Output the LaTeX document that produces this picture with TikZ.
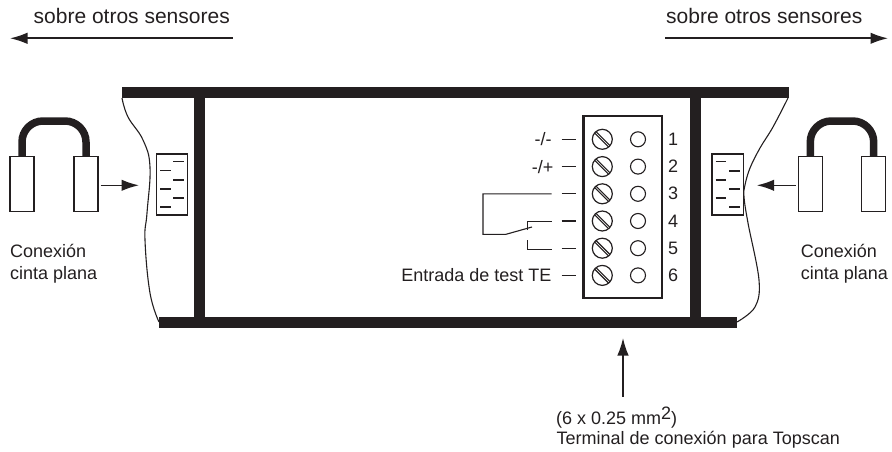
\documentclass[tikz,border=0pt]{standalone}
\usepackage{fontspec}
\setmainfont{Liberation Sans}
\usetikzlibrary{arrows.meta,calc}
\definecolor{ink}{HTML}{231F20}
\tikzset{
  bar/.style={fill=ink,draw=none},
  flow/.style={draw=ink,line width=1.6pt,-{Latex[length=17.5pt,width=11.5pt]},shorten >=0pt},
  wave/.style={draw=ink,line width=1.1pt},
  wire/.style={draw=ink,line width=1.1pt},
  lbl/.style={font=\fontsize{18}{20}\selectfont,text=ink,inner sep=0pt},
  toplbl/.style={font=\fontsize{21}{26}\selectfont,text=ink,inner sep=0pt,anchor=base west},
  plug/.style={draw=ink,line width=1.1pt,fill=white,minimum width=24pt,minimum height=54.5pt,inner sep=0pt},
  cable/.style={draw=ink,line width=7.5pt,rounded corners=21pt},
  block/.style={draw=ink,line width=1.1pt,minimum width=31.5pt,minimum height=61pt,inner sep=0pt},
  tick/.style={draw=ink,line width=1.25pt},
  screw/.style={circle,draw=ink,line width=1.2pt,minimum size=20pt,inner sep=0pt},
  hole/.style={circle,draw=ink,line width=1.1pt,minimum size=15pt,inner sep=0pt},
  termbox/.style={draw=ink,line width=2.4pt,minimum width=78.4pt,minimum height=182pt,inner sep=0pt},
}
\begin{document}
\begin{tikzpicture}[x=1pt,y=-1pt]
\useasboundingbox (0,0) rectangle (892,452);
% top arrows
\node[toplbl] (tl) at (33.5,23.3) {sobre otros sensores};
\node[toplbl] (tr) at (666,23.3) {sobre otros sensores};
\coordinate (a1s) at (232.5,38.3); \coordinate (a1e) at (10,38.3);
\coordinate (a2s) at (665,38.3);   \coordinate (a2e) at (888,38.3);
\draw[flow] (a1s) -- (a1e);
\draw[flow] (a2s) -- (a2e);
% frame
\fill[bar] (122,87) rectangle (789,98);
\fill[bar] (159,317) rectangle (737,328);
\fill[bar] (194,98) rectangle (205,317);
\fill[bar] (690,98) rectangle (701,317);
% torn edges
\draw[wave] plot[smooth,tension=0.7] coordinates {(122,98) (128,117) (143,140) (150,167) (147,213) (145,240) (150,293) (159,322)};
\draw[wave] plot[smooth,tension=0.6] coordinates {(788,98) (773,127) (760,148) (750,168) (745,185) (744,197) (748,223) (759,280) (755,307) (737,322)};
% terminal
\node[termbox] (term) at (622.5,207) {};
\foreach \i/\y in {1/139.3,2/166.6,3/193.8,4/221,5/248.2,6/275.4}{
  \node[screw] (s\i) at (602.3,\y) {};
  \draw[ink,line width=1.1pt] ($(s\i)+(-7.6,-6.2)$) -- ($(s\i)+(6.2,7.6)$);
  \draw[ink,line width=1.1pt] ($(s\i)+(-6.2,-7.6)$) -- ($(s\i)+(7.6,6.2)$);
  \node[hole] (h\i) at (638,\y) {};
  \node[lbl] (n\i) at (673,\y) {\i};
  \coordinate (d\i) at (561.7,\y);
  \draw[tick] (d\i) -- ++(14.5,0);
}
\node[lbl,anchor=east] (l1) at ($(d1)+(-10,0)$) {-/-};
\node[lbl,anchor=east] (l2) at ($(d2)+(-8,0)$) {-/+};
\node[lbl,anchor=east] (l6) at ($(d6)+(-10,0)$) {Entrada de test TE};
% relay
\coordinate (r3) at (551.5,193.8);
\coordinate (r3a) at (483,193.8);
\coordinate (r3b) at (483,234.3);
\coordinate (r3c) at (506,234.3);
\coordinate (r3d) at (532,227);
\coordinate (r4a) at (527.7,230);
\coordinate (r4b) at (527.7,221.4);
\coordinate (r4c) at (551.5,221.4);
\coordinate (r5a) at (527.7,240);
\coordinate (r5b) at (527.7,249.4);
\coordinate (r5c) at (551.5,249.4);
\draw[wire] (r3) -- (r3a) -- (r3b) -- (r3c) -- (r3d);
\draw[wire] (r4a) -- (r4b) -- (r4c);
\draw[wire] (r5a) -- (r5b) -- (r5c);
% left connector
\node[block] (bL) at (171.8,184.5) {};
\foreach \y in {161.7,180,198}{\draw[tick] (173.3,\y) -- (184,\y);}
\foreach \y in {170.7,189,207}{\draw[tick] (160.3,\y) -- (170.7,\y);}
\node[plug] (pL1) at (22,184) {};
\node[plug] (pL2) at (86,184) {};
\draw[cable] (pL1.north) -- (22,121) -- (86,121) -- (pL2.north);
\coordinate (aLs) at (100.5,185.3); \coordinate (aLe) at (139,185.3);
\draw[flow] (aLs) -- (aLe);
\node[lbl,anchor=base west] (cL1) at (10,257) {Conexión};
\node[lbl,anchor=base west] (cL2) at (10,279) {cinta plana};
% right connector
\node[block] (bR) at (727.7,184.5) {};
\foreach \y in {161.7,180,198}{\draw[tick] (715.7,\y) -- (726,\y);}
\foreach \y in {171,189,207}{\draw[tick] (729,\y) -- (740,\y);}
\node[plug] (pR1) at (810.3,184) {};
\node[plug] (pR2) at (873.7,184) {};
\draw[cable] (pR1.north) -- (810.3,121) -- (873.7,121) -- (pR2.north);
\coordinate (aRs) at (795.7,185.3); \coordinate (aRe) at (756.7,185.3);
\draw[flow] (aRs) -- (aRe);
\node[lbl,anchor=base west] (cR1) at (800.7,257) {Conexión};
\node[lbl,anchor=base west] (cR2) at (800.7,279) {cinta plana};
% bottom arrow and label
\coordinate (aBs) at (623,396.7); \coordinate (aBe) at (623,338);
\draw[flow] (aBs) -- (aBe);
\node[lbl,anchor=base west] (bt1) at (556,424) {(6 x 0.25 mm\raisebox{5pt}{2})};
\node[lbl,anchor=base west] (bt2) at (556.5,444) {Terminal de conexión para Topscan};
\end{tikzpicture}
\end{document}
